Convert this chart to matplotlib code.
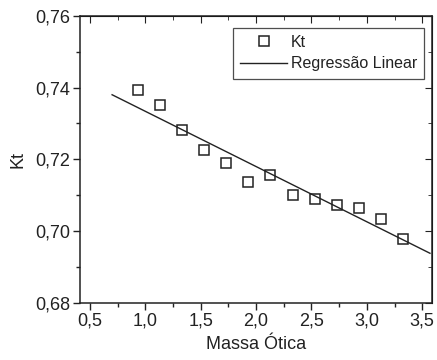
import matplotlib
matplotlib.use('Agg')
import matplotlib.pyplot as plt
import matplotlib.ticker as ticker

plt.rcParams['font.family'] = ['Liberation Sans', 'DejaVu Sans']

# dados
massa = [0.93, 1.13, 1.33, 1.53, 1.73, 1.93, 2.13, 2.33, 2.53, 2.73, 2.93, 3.13, 3.33]
kt = [0.7392, 0.7351, 0.7282, 0.7225, 0.7190, 0.7137, 0.7156,
      0.7101, 0.7088, 0.7073, 0.7064, 0.7034, 0.6979]
reta_x = [0.70, 3.57]
reta_y = [0.7380, 0.6938]

cor = '#222222'
fig = plt.figure(figsize=(4.37, 3.6), dpi=100)
ax = fig.add_axes([0.183, 0.159, 0.806, 0.797])

ax.plot(massa, kt, linestyle='none', marker='s', markersize=7.2,
        markerfacecolor='none', markeredgecolor=cor, markeredgewidth=1.1, label='Kt')
ax.plot(reta_x, reta_y, color=cor, linewidth=1.0, label='Regressão Linear')

ax.set_xlim(0.41, 3.59)
ax.set_ylim(0.68, 0.76)
ax.xaxis.set_major_locator(ticker.MultipleLocator(0.5))
ax.xaxis.set_minor_locator(ticker.MultipleLocator(0.25))
ax.yaxis.set_major_locator(ticker.MultipleLocator(0.02))
ax.yaxis.set_minor_locator(ticker.MultipleLocator(0.01))
ax.xaxis.set_major_formatter(ticker.FuncFormatter(lambda v, p: '{:.1f}'.format(v).replace('.', ',')))
ax.yaxis.set_major_formatter(ticker.FuncFormatter(lambda v, p: '{:.2f}'.format(v).replace('.', ',')))

# estilo Origin: fora em baixo/esquerda, dentro em cima/direita
ax.tick_params(which='both', direction='out', top=False, right=False,
               labelsize=13, colors=cor, width=1.0, pad=2)
ax.tick_params(which='major', length=5)
ax.tick_params(which='minor', length=3)
sec_x = ax.secondary_xaxis('top')
sec_x.xaxis.set_major_locator(ticker.MultipleLocator(0.5))
sec_x.xaxis.set_minor_locator(ticker.MultipleLocator(0.25))
sec_x.tick_params(which='both', direction='in', labeltop=False, colors=cor)
sec_x.tick_params(which='major', length=5)
sec_x.tick_params(which='minor', length=3)
sec_y = ax.secondary_yaxis('right')
sec_y.yaxis.set_major_locator(ticker.MultipleLocator(0.02))
sec_y.yaxis.set_minor_locator(ticker.MultipleLocator(0.01))
sec_y.tick_params(which='both', direction='in', labelright=False, colors=cor)
sec_y.tick_params(which='major', length=5)
sec_y.tick_params(which='minor', length=3)
for s in ax.spines.values():
    s.set_color(cor)
    s.set_linewidth(1.1)

ax.set_xlabel('Massa Ótica', fontsize=13, color=cor, labelpad=5)
ax.set_ylabel('Kt', fontsize=13, color=cor, labelpad=6)

leg = ax.legend(loc='upper right', bbox_to_anchor=(0.977, 0.958), fontsize=11.5,
                frameon=True, fancybox=False, edgecolor=cor, handlelength=2.9,
                borderpad=0.45, borderaxespad=0, labelspacing=0.4, handletextpad=0.25)
leg.get_frame().set_linewidth(0.9)
for t in leg.get_texts():
    t.set_color(cor)

fig.savefig('out.png', dpi=100)
